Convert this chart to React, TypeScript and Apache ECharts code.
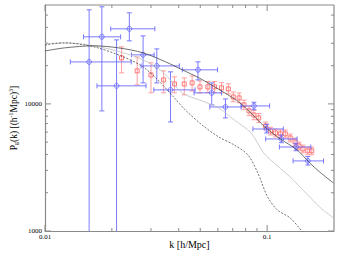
import React, { useEffect, useRef } from "react";
import * as echarts from "echarts";

const xMin = 0.01;
const xMax = 0.2;
const yMin = 1000;
const yMax = 60000;

const xTickLabels = [0.01, 0.1];
const yTickLabels = [1000, 10000];
const xMajorTicks = [0.01, 0.1];
const xMinorTicks = [0.02, 0.03, 0.04, 0.05, 0.06, 0.07, 0.08, 0.09];
const yMajorTicks = [1000, 10000];
const yMinorTicks = [2000, 3000, 4000, 5000, 6000, 7000, 8000, 9000, 20000, 30000, 40000, 50000];

// model curves [k, P]
const solidLine = [
  [0.01, 26100], [0.01225, 27600], [0.01663, 28650], [0.02143, 27600], [0.02764, 25210],
  [0.03493, 21420], [0.0415, 18540], [0.04934, 16030], [0.05804, 13610], [0.069, 11350],
  [0.07638, 10000], [0.0863, 8180], [0.0965, 6710], [0.1147, 5300], [0.1364, 4350],
  [0.1556, 3430], [0.1723, 2915], [0.1986, 2390],
];
const dashedLine = [
  [0.01, 29150], [0.01225, 30200], [0.01663, 28100], [0.02255, 23440], [0.02764, 19540],
  [0.03219, 15450], [0.03826, 11140], [0.04279, 8970], [0.05087, 6840], [0.06046, 5500],
  [0.0711, 4750], [0.082, 3963], [0.0908, 2862], [0.1005, 1853], [0.1113, 1463],
  [0.127, 1266], [0.1435, 1000], [0.1585, 849],
];
const dottedLine = [
  [0.01, 29650], [0.01225, 30200], [0.01663, 28650], [0.02255, 25210], [0.02764, 22210],
  [0.03387, 17870], [0.0415, 12210], [0.05087, 10560], [0.06046, 9300], [0.0711, 7480],
  [0.0846, 5910], [0.0965, 4110], [0.1113, 3250], [0.127, 2660], [0.1509, 1955],
  [0.1723, 1545], [0.1986, 1266],
];

// blue: [k, P, kLow, kHigh, PLow, PHigh]
const bluePoints = [
  [0.0158, 21400, 0.013, 0.02446, 500, 55000],
  [0.01803, 33700, 0.0149, 0.0219, 8810, 58100],
  [0.021, 13870, 0.01714, 0.0285, 500, 31900],
  [0.02397, 38960, 0.01976, 0.03123, 31330, 52060],
  [0.02764, 24320, 0.0245, 0.031, 14630, 34300],
  [0.03186, 19900, 0.02708, 0.04026, 14630, 27100],
  [0.04883, 18540, 0.0415, 0.0598, 15450, 21420],
  [0.03674, 12890, 0.0309, 0.04737, 7210, 17870],
  [0.05631, 12210, 0.0469, 0.06232, 9820, 14630],
  [0.0649, 9460, 0.0552, 0.0764, 7760, 10940],
  [0.0872, 9640, 0.0764, 0.1026, 9000, 10300],
  [0.0995, 6350, 0.0863, 0.1183, 5900, 6900],
  [0.1159, 5300, 0.0985, 0.1364, 4950, 5700],
  [0.1349, 4580, 0.1136, 0.1572, 4280, 4900],
  [0.1525, 3560, 0.1309, 0.1794, 3300, 3850],
];

// red: [k, P, PLow, PHigh]
const redPoints = [
  [0.02211, 23020, 17540, 28100],
  [0.026, 18200, 14130, 23440],
  [0.03, 16900, 12220, 21050],
  [0.0342, 15450, 12220, 18200],
  [0.03826, 14360, 12220, 16330],
  [0.04236, 14360, 11780, 16030],
  [0.04595, 14630, 12640, 16600],
  [0.04984, 13600, 12220, 15170],
  [0.0541, 13600, 12300, 15000],
  [0.058, 13600, 12300, 15000],
  [0.0623, 13370, 12200, 14700],
  [0.0669, 13120, 12000, 14400],
  [0.0704, 11350, 10400, 12400],
  [0.0748, 11150, 10200, 12200],
  [0.0787, 9820, 9000, 10700],
  [0.0829, 8810, 8100, 9600],
  [0.0872, 8180, 7500, 8900],
  [0.0917, 7760, 7150, 8400],
  [0.0985, 6710, 6250, 7200],
  [0.1036, 6120, 5700, 6550],
  [0.109, 5910, 5500, 6330],
  [0.1147, 5810, 5400, 6230],
  [0.1207, 5810, 5400, 6230],
  [0.127, 5400, 5030, 5790],
  [0.1336, 5020, 4680, 5380],
  [0.1392, 4670, 4350, 5010],
  [0.1449, 4420, 4120, 4740],
  [0.1525, 4270, 3980, 4580],
  [0.1588, 4270, 3980, 4580],
];

const FONT = "Liberation Serif";
const AXIS_COLOR = "#8a8a8a";
const BLUE = "#6b6bff";
const RED_BAR = "#ff9494";
const RED_MARK = "#ff6a6a";

export default function App() {
  const ref = useRef<HTMLDivElement>(null);
  useEffect(() => {
    if (!ref.current) return;
    const chart = echarts.init(ref.current, null, { renderer: "svg" });

    const clampY = (cs: any, y: number) => Math.max(cs.y, Math.min(cs.y + cs.height, y));

    const option: any = {
      animation: false,
      backgroundColor: "#fff",
      grid: { left: 40, right: 12, top: 5, bottom: 24, containLabel: false },
      xAxis: {
        type: "log",
        logBase: 10,
        min: xMin,
        max: xMax,
        name: "k [h/Mpc]",
        nameLocation: "middle",
        nameGap: 8,
        nameTextStyle: { fontFamily: FONT, fontSize: 10, color: "#000" },
        axisLine: { show: true, lineStyle: { color: AXIS_COLOR, width: 1.2 } },
        axisTick: { show: false },
        splitLine: { show: false },
        axisLabel: { show: false },
      },
      yAxis: {
        type: "log",
        logBase: 10,
        min: yMin,
        max: yMax,
        name: "P{sub|g}(k) [(h{sup|-1}Mpc){sup|3}]",
        nameLocation: "middle",
        nameGap: 26,
        nameTextStyle: {
          fontFamily: FONT,
          fontSize: 9.5,
          color: "#000",
          rich: {
            sub: { fontFamily: FONT, fontSize: 6, color: "#000", padding: [5, 0, 0, 0] },
            sup: { fontFamily: FONT, fontSize: 6, color: "#000", padding: [0, 0, 5, 0] },
          },
        },
        axisLine: { show: true, lineStyle: { color: AXIS_COLOR, width: 1.2 } },
        axisTick: { show: false },
        splitLine: { show: false },
        axisLabel: { show: false },
      },
      series: [
        // x ticks (bottom and top)
        {
          type: "custom",
          silent: true,
          data: [
            ...xMajorTicks.map((v) => [v, yMin, 6]),
            ...xMinorTicks.map((v) => [v, yMin, 3]),
          ],
          renderItem: (params: any, api: any) => {
            const cs = params.coordSys;
            const x = api.coord([api.value(0), yMin])[0];
            const len = api.value(2);
            const st = { stroke: AXIS_COLOR, lineWidth: 1 };
            return {
              type: "group",
              children: [
                { type: "line", shape: { x1: x, y1: cs.y + cs.height, x2: x, y2: cs.y + cs.height - len }, style: st },
                { type: "line", shape: { x1: x, y1: cs.y, x2: x, y2: cs.y + len }, style: st },
              ],
            };
          },
          z: 1,
        },
        // y ticks (left and right)
        {
          type: "custom",
          silent: true,
          data: [
            ...yMajorTicks.map((v) => [xMin, v, 6]),
            ...yMinorTicks.map((v) => [xMin, v, 3]),
          ],
          renderItem: (params: any, api: any) => {
            const cs = params.coordSys;
            const y = api.coord([xMin, api.value(1)])[1];
            const len = api.value(2);
            const st = { stroke: AXIS_COLOR, lineWidth: 1 };
            return {
              type: "group",
              children: [
                { type: "line", shape: { x1: cs.x, y1: y, x2: cs.x + len, y2: y }, style: st },
                { type: "line", shape: { x1: cs.x + cs.width, y1: y, x2: cs.x + cs.width - len, y2: y }, style: st },
              ],
            };
          },
          z: 1,
        },
        // x tick labels
        {
          type: "custom",
          silent: true,
          data: xTickLabels.map((v) => [v, yMin]),
          renderItem: (params: any, api: any) => {
            const cs = params.coordSys;
            const v = api.value(0);
            const x = api.coord([v, yMin])[0];
            return {
              type: "text",
              x,
              y: cs.y + cs.height + 2,
              style: { text: String(xTickLabels[params.dataIndex]), fontFamily: FONT, fontSize: 7, fill: "#000", align: "center", verticalAlign: "top" },
            };
          },
          z: 1,
        },
        // y tick labels
        {
          type: "custom",
          silent: true,
          data: yTickLabels.map((v) => [xMin, v]),
          renderItem: (params: any, api: any) => {
            const cs = params.coordSys;
            const y = api.coord([xMin, api.value(1)])[1];
            return {
              type: "text",
              x: cs.x - 3,
              y,
              style: { text: String(yTickLabels[params.dataIndex]), fontFamily: FONT, fontSize: 7, fill: "#000", align: "right", verticalAlign: "middle" },
            };
          },
          z: 1,
        },
        // top & right frame
        {
          type: "custom",
          silent: true,
          data: [[xMin, yMin]],
          renderItem: (params: any) => {
            const cs = params.coordSys;
            const st = { stroke: AXIS_COLOR, lineWidth: 1.2 };
            return {
              type: "group",
              children: [
                { type: "line", shape: { x1: cs.x, y1: cs.y, x2: cs.x + cs.width, y2: cs.y }, style: st },
                { type: "line", shape: { x1: cs.x + cs.width, y1: cs.y, x2: cs.x + cs.width, y2: cs.y + cs.height }, style: st },
              ],
            };
          },
          z: 1,
        },
        // red data
        {
          type: "custom",
          silent: true,
          clip: true,
          data: redPoints,
          renderItem: (params: any, api: any) => {
            const cs = params.coordSys;
            const c = api.coord([api.value(0), api.value(1)]);
            const yt = api.coord([api.value(0), api.value(3)])[1];
            const yb = api.coord([api.value(0), api.value(2)])[1];
            const cap = 2.5;
            const bar = { stroke: RED_BAR, lineWidth: 0.9 };
            const s = 2;
            return {
              type: "group",
              children: [
                { type: "line", shape: { x1: c[0], y1: clampY(cs, yt), x2: c[0], y2: clampY(cs, yb) }, style: bar },
                { type: "line", shape: { x1: c[0] - cap, y1: yt, x2: c[0] + cap, y2: yt }, style: bar },
                { type: "line", shape: { x1: c[0] - cap, y1: yb, x2: c[0] + cap, y2: yb }, style: bar },
                { type: "rect", shape: { x: c[0] - s, y: c[1] - s, width: 2 * s, height: 2 * s }, style: { fill: "rgba(255,255,255,0)", stroke: RED_MARK, lineWidth: 0.9 } },
              ],
            };
          },
          z: 3,
        },
        // blue data
        {
          type: "custom",
          silent: true,
          clip: true,
          data: bluePoints,
          renderItem: (params: any, api: any) => {
            const cs = params.coordSys;
            const k = api.value(0);
            const p = api.value(1);
            const c = api.coord([k, p]);
            const xl = api.coord([api.value(2), p])[0];
            const xr = api.coord([api.value(3), p])[0];
            const yb = api.coord([k, api.value(4)])[1];
            const yt = api.coord([k, api.value(5)])[1];
            const cap = 2.5;
            const st = { stroke: BLUE, lineWidth: 0.9 };
            const children: any[] = [
              { type: "line", shape: { x1: xl, y1: c[1], x2: xr, y2: c[1] }, style: st },
              { type: "line", shape: { x1: xl, y1: c[1] - cap, x2: xl, y2: c[1] + cap }, style: st },
              { type: "line", shape: { x1: xr, y1: c[1] - cap, x2: xr, y2: c[1] + cap }, style: st },
              { type: "line", shape: { x1: c[0], y1: clampY(cs, yt), x2: c[0], y2: clampY(cs, yb) }, style: st },
              { type: "line", shape: { x1: c[0] - cap, y1: yt, x2: c[0] + cap, y2: yt }, style: st },
              { type: "circle", shape: { cx: c[0], cy: c[1], r: 2.4 }, style: { fill: "rgba(255,255,255,0)", stroke: BLUE, lineWidth: 0.9 } },
            ];
            if (yb <= cs.y + cs.height) {
              children.push({ type: "line", shape: { x1: c[0] - cap, y1: yb, x2: c[0] + cap, y2: yb }, style: st });
            }
            return { type: "group", children };
          },
          z: 4,
        },
        {
          type: "line",
          data: dottedLine,
          showSymbol: false,
          smooth: 0.3,
          silent: true,
          lineStyle: { color: "#c0c0c0", width: 0.8 },
          z: 5,
        },
        {
          type: "line",
          data: dashedLine,
          showSymbol: false,
          smooth: 0.3,
          silent: true,
          lineStyle: { color: "#333", width: 0.7, type: [2, 1.5] },
          z: 5,
        },
        {
          type: "line",
          data: solidLine,
          showSymbol: false,
          smooth: 0.3,
          silent: true,
          lineStyle: { color: "#333", width: 0.7 },
          z: 5,
        },
      ],
    };
    chart.setOption(option);
    return () => chart.dispose();
  }, []);

  return (
    <div
      ref={ref}
      style={{ position: "absolute", left: 0, top: 0, width: 346, height: 255, background: "#fff" }}
    />
  );
}
